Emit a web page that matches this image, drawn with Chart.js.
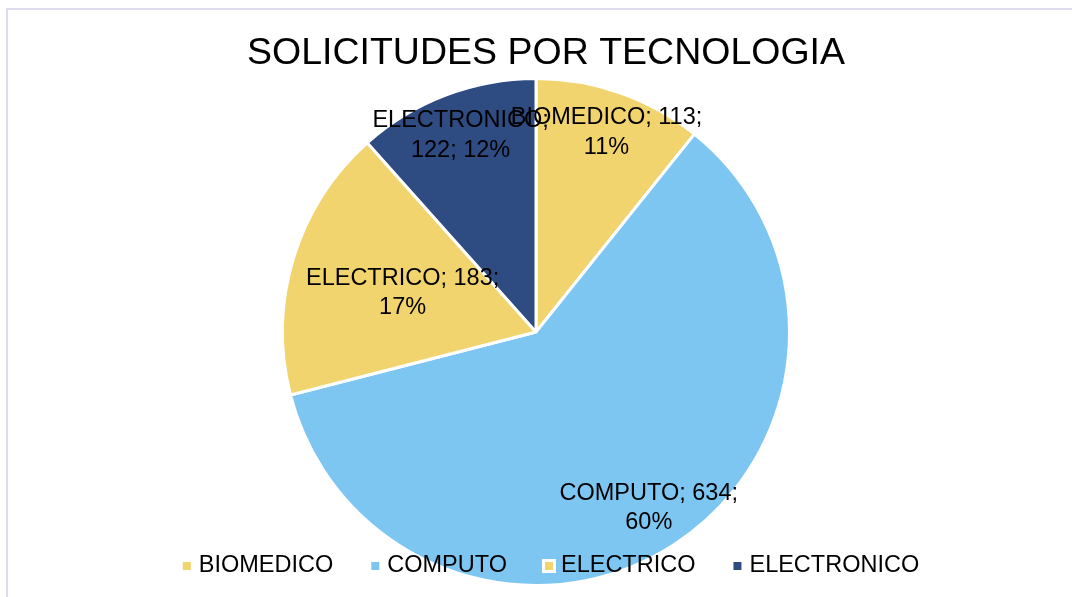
<!DOCTYPE html>
<html>
<head>
<meta charset="utf-8">
<script src="https://cdn.jsdelivr.net/npm/chart.js@4"></script>
<style>
  body { margin: 0; background: #fff; overflow: hidden; }
  #wrap { position: relative; width: 1072px; height: 597px; }
  #frame { position: absolute; left: 6px; top: 8px; width: 1100px; height: 700px; border: 2px solid #dddcee; box-sizing: border-box; }
  canvas { position: absolute; left: 0; top: 0; }
</style>
</head>
<body>
<div id="wrap"><div id="frame"></div><canvas id="pie" width="1072" height="597"></canvas></div>
<script>
const categories = ["BIOMEDICO", "COMPUTO", "ELECTRICO", "ELECTRONICO"];
const solicitudes = [113, 634, 183, 122];
const sliceColors = ["#f2d46e", "#7ec6f2", "#f2d46e", "#2e4b82"];

const fontFamily = "'Liberation Sans', Arial, sans-serif";

// split a label in lines no wider than maxWidth
function wrap(ctx, text, maxWidth) {
  var words = text.split(' ');
  var lines = [];
  var line = words[0];
  for (var i = 1; i < words.length; i++) {
    var test = line + ' ' + words[i];
    if (ctx.measureText(test).width > maxWidth) {
      lines.push(line);
      line = words[i];
    } else {
      line = test;
    }
  }
  lines.push(line);
  return lines;
}

// the title sits a bit right of the pie centre in the original
const titleShift = {
  id: 'titleShift',
  afterLayout(chart, args, opts) {
    if (chart.titleBlock) {
      chart.titleBlock.left += opts.x;
      chart.titleBlock.right += opts.x;
    }
  }
};

const sliceLabels = {
  id: 'sliceLabels',
  afterDatasetsDraw(chart, args, opts) {
    const ctx = chart.ctx;
    const meta = chart.getDatasetMeta(0);
    const data = chart.data.datasets[0].data;
    const total = data.reduce((a, b) => a + b, 0);
    ctx.save();
    ctx.font = opts.size + 'px ' + fontFamily;
    ctx.fillStyle = '#000';
    ctx.textAlign = 'center';
    ctx.textBaseline = 'middle';
    meta.data.forEach((arc, i) => {
      const p = arc.getProps(['x', 'y', 'startAngle', 'endAngle', 'outerRadius'], true);
      const mid = (p.startAngle + p.endAngle) / 2;
      const r = p.outerRadius * opts.radial[i];
      const cx = p.x + Math.cos(mid) * r;
      const cy = p.y + Math.sin(mid) * r + opts.dy;
      const text = chart.data.labels[i] + '; ' + data[i] + '; ' + Math.round(data[i] / total * 100) + '%';
      const lines = wrap(ctx, text, opts.maxWidth);
      lines.forEach((ln, k) => {
        ctx.fillText(ln, cx, cy + (k - (lines.length - 1) / 2) * opts.lineHeight);
      });
    });
    ctx.restore();
  }
};

// legend drawn over the pie, like the spreadsheet does
const overLegend = {
  id: 'overLegend',
  afterDraw(chart, args, opts) {
    const ctx = chart.ctx;
    const labels = chart.data.labels;
    const colors = chart.data.datasets[0].backgroundColor;
    ctx.save();
    ctx.font = opts.size + 'px ' + fontFamily;
    ctx.textBaseline = 'middle';
    ctx.textAlign = 'left';
    var widths = labels.map(l => ctx.measureText(l).width);
    var total = 0;
    widths.forEach(w => total += opts.box + opts.gap + w);
    total += opts.spacing * (labels.length - 1);
    var x = chart.width / 2 + opts.shiftX - total / 2;
    var y = chart.height - opts.bottom;
    labels.forEach((l, i) => {
      ctx.fillStyle = '#fff';
      ctx.fillRect(x - 3, y - opts.box / 2 - 3, opts.box + 6, opts.box + 6);
      ctx.fillStyle = colors[i];
      ctx.fillRect(x, y - opts.box / 2, opts.box, opts.box);
      ctx.fillStyle = '#000';
      ctx.fillText(l, x + opts.box + opts.gap, y);
      x += opts.box + opts.gap + widths[i] + opts.spacing;
    });
    ctx.restore();
  }
};

const ctx = document.getElementById('pie');
new Chart(ctx, {
  type: 'pie',
  data: {
    labels: categories,
    datasets: [{
      data: solicitudes,
      backgroundColor: sliceColors,
      borderColor: '#fff',
      borderWidth: 3
    }]
  },
  options: {
    responsive: false,
    animation: false,
    layout: { padding: { bottom: 10 } },
    plugins: {
      legend: { display: false },
      tooltip: { enabled: false },
      title: {
        display: true,
        text: 'SOLICITUDES POR TECNOLOGIA',
        color: '#000',
        font: { family: fontFamily, size: 37.5, weight: 'normal' },
        padding: { top: 31, bottom: 1 }
      },
      titleShift: { x: 10 },
      sliceLabels: { size: 23.5, lineHeight: 29.5, maxWidth: 215, dy: 1.5, radial: [0.84, 0.82, 0.55, 0.835] },
      overLegend: { size: 23.5, box: 8, gap: 8, spacing: 38, shiftX: 15, bottom: 31 }
    }
  },
  plugins: [titleShift, sliceLabels, overLegend]
});
</script>
</body>
</html>
